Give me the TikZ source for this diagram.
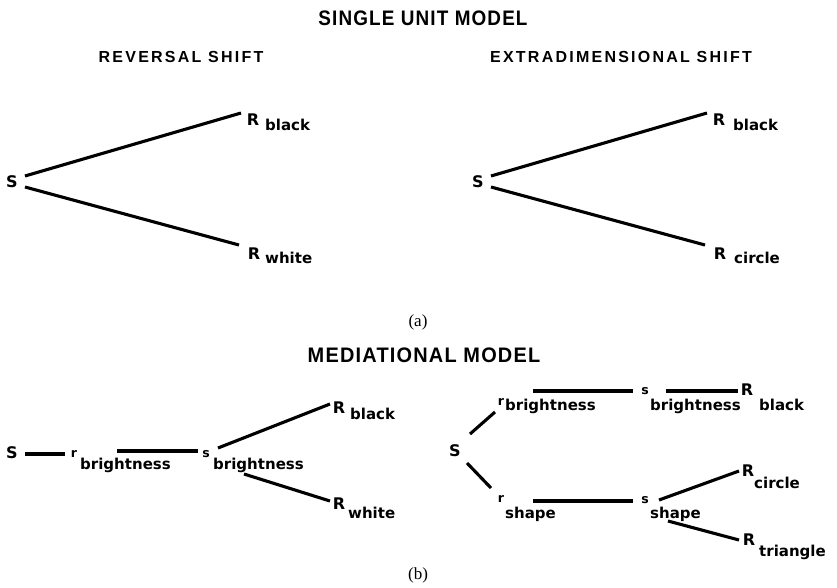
\documentclass[tikz,border=0pt]{standalone}
\usepackage{fontspec}
\setmainfont{Liberation Serif}
\newfontfamily\labelfont{DejaVu Sans}[BoldFont={DejaVu Sans Bold}]
\newfontfamily\headfont{Liberation Sans}[BoldFont={Liberation Sans Bold},LetterSpace=6]
\newfontfamily\headspaced{Liberation Sans}[BoldFont={Liberation Sans Bold},LetterSpace=14]
\begin{document}
\begin{tikzpicture}[x=1pt,y=-1pt,
  main/.style={font=\labelfont\bfseries\fontsize{16}{17}\selectfont, inner sep=0pt, anchor=base},
  small/.style={font=\labelfont\bfseries\fontsize{12.5}{13}\selectfont, inner sep=0pt, anchor=base},
  sub/.style={font=\labelfont\bfseries\fontsize{15}{16}\selectfont, inner sep=0pt, anchor=base west},
  title/.style={font=\headfont\bfseries\fontsize{21}{23}\selectfont, inner sep=0pt},
  subtitle/.style={font=\headspaced\bfseries\fontsize{16}{18}\selectfont, inner sep=0pt},
  caption/.style={font=\fontsize{17}{19}\selectfont, inner sep=0pt},
  link/.style={line width=3.1pt}]
\useasboundingbox (0,0) rectangle (837,587);

% headings
\node[title] (head1) at (423,18) {\scalebox{0.9}[1]{SINGLE UNIT MODEL}};
\node[subtitle] (head2) at (181,57) {REVERSAL SHIFT};
\node[subtitle] (head3) at (621,57) {EXTRADIMENSIONAL SHIFT};
\node[caption] (capa) at (418,322) {(a)};
\node[title] (head4) at (424,355) {\scalebox{0.95}[1]{MEDIATIONAL MODEL}};
\node[caption] (capb) at (418,575) {(b)};

% single unit model: reversal shift
\node[main] (Sa) at (12,187) {S};
\node[main] (Rab) at (253,125) {R};
\node[sub] (Rab-s) at (265,130) {black};
\node[main] (Raw) at (254,259) {R};
\node[sub] (Raw-s) at (265,263) {white};
\draw[link] ([shift={(13,-11)}]Sa.base) -- ([shift={(-12,-12)}]Rab.base);
\draw[link] ([shift={(13,0)}]Sa.base) -- ([shift={(-15,-14)}]Raw.base);

% single unit model: extradimensional shift
\node[main] (Sx) at (478,187) {S};
\node[main] (Rxb) at (719,125) {R};
\node[sub] (Rxb-s) at (733,130) {black};
\node[main] (Rxc) at (720,259) {R};
\node[sub] (Rxc-s) at (734,263) {circle};
\draw[link] ([shift={(13,-11)}]Sx.base) -- ([shift={(-12,-12)}]Rxb.base);
\draw[link] ([shift={(13,0)}]Sx.base) -- ([shift={(-15,-14)}]Rxc.base);

% mediational model: reversal shift
\node[main] (Sb) at (12,458) {S};
\node[small] (rb1) at (74,457) {r};
\node[sub] (rb1-s) at (80,469) {brightness};
\node[small] (sb1) at (206,457) {s};
\node[sub] (sb1-s) at (213,469) {brightness};
\node[main] (Rbb) at (339,413) {R};
\node[sub] (Rbb-s) at (350,419) {black};
\node[main] (Rbw) at (339,509) {R};
\node[sub] (Rbw-s) at (348,518) {white};
\draw[link] ([shift={(13,-4)}]Sb.base) -- ([shift={(-9,-3)}]rb1.base);
\draw[link] ([shift={(43,-6)}]rb1.base) -- ([shift={(-8,-6)}]sb1.base);
\draw[link] ([shift={(12,-9)}]sb1.base) -- ([shift={(-9,-9)}]Rbb.base);
\draw[link] ([shift={(38,17)}]sb1.base) -- ([shift={(-9,-8)}]Rbw.base);

% mediational model: extradimensional shift
\node[main] (Sy) at (455,456) {S};
\node[small] (ry1) at (501,405) {r};
\node[sub] (ry1-s) at (505,410) {brightness};
\node[small] (sy1) at (645,394) {s};
\node[sub] (sy1-s) at (650,410) {brightness};
\node[main] (Ryb) at (747,395) {R};
\node[sub] (Ryb-s) at (759,410) {black};
\node[small] (ry2) at (501,502) {r};
\node[sub] (ry2-s) at (505,518) {shape};
\node[small] (sy2) at (645,503) {s};
\node[sub] (sy2-s) at (650,518) {shape};
\node[main] (Ryc) at (748,476) {R};
\node[sub] (Ryc-s) at (754,488) {circle};
\node[main] (Ryt) at (749,545) {R};
\node[sub] (Ryt-s) at (759,556) {triangle};
\draw[link] ([shift={(15,-22)}]Sy.base) -- ([shift={(-6,7)}]ry1.base);
\draw[link] ([shift={(12,7)}]Sy.base) -- ([shift={(-10,-14)}]ry2.base);
\draw[link] ([shift={(32,-14)}]ry1.base) -- ([shift={(-12,-3)}]sy1.base);
\draw[link] ([shift={(21,-3)}]sy1.base) -- ([shift={(-9,-4)}]Ryb.base);
\draw[link] ([shift={(32,-1)}]ry2.base) -- ([shift={(-12,-2)}]sy2.base);
\draw[link] ([shift={(14,-3)}]sy2.base) -- ([shift={(-9,-5)}]Ryc.base);
\draw[link] ([shift={(23,18)}]sy2.base) -- ([shift={(-10,-5)}]Ryt.base);
\end{tikzpicture}
\end{document}
